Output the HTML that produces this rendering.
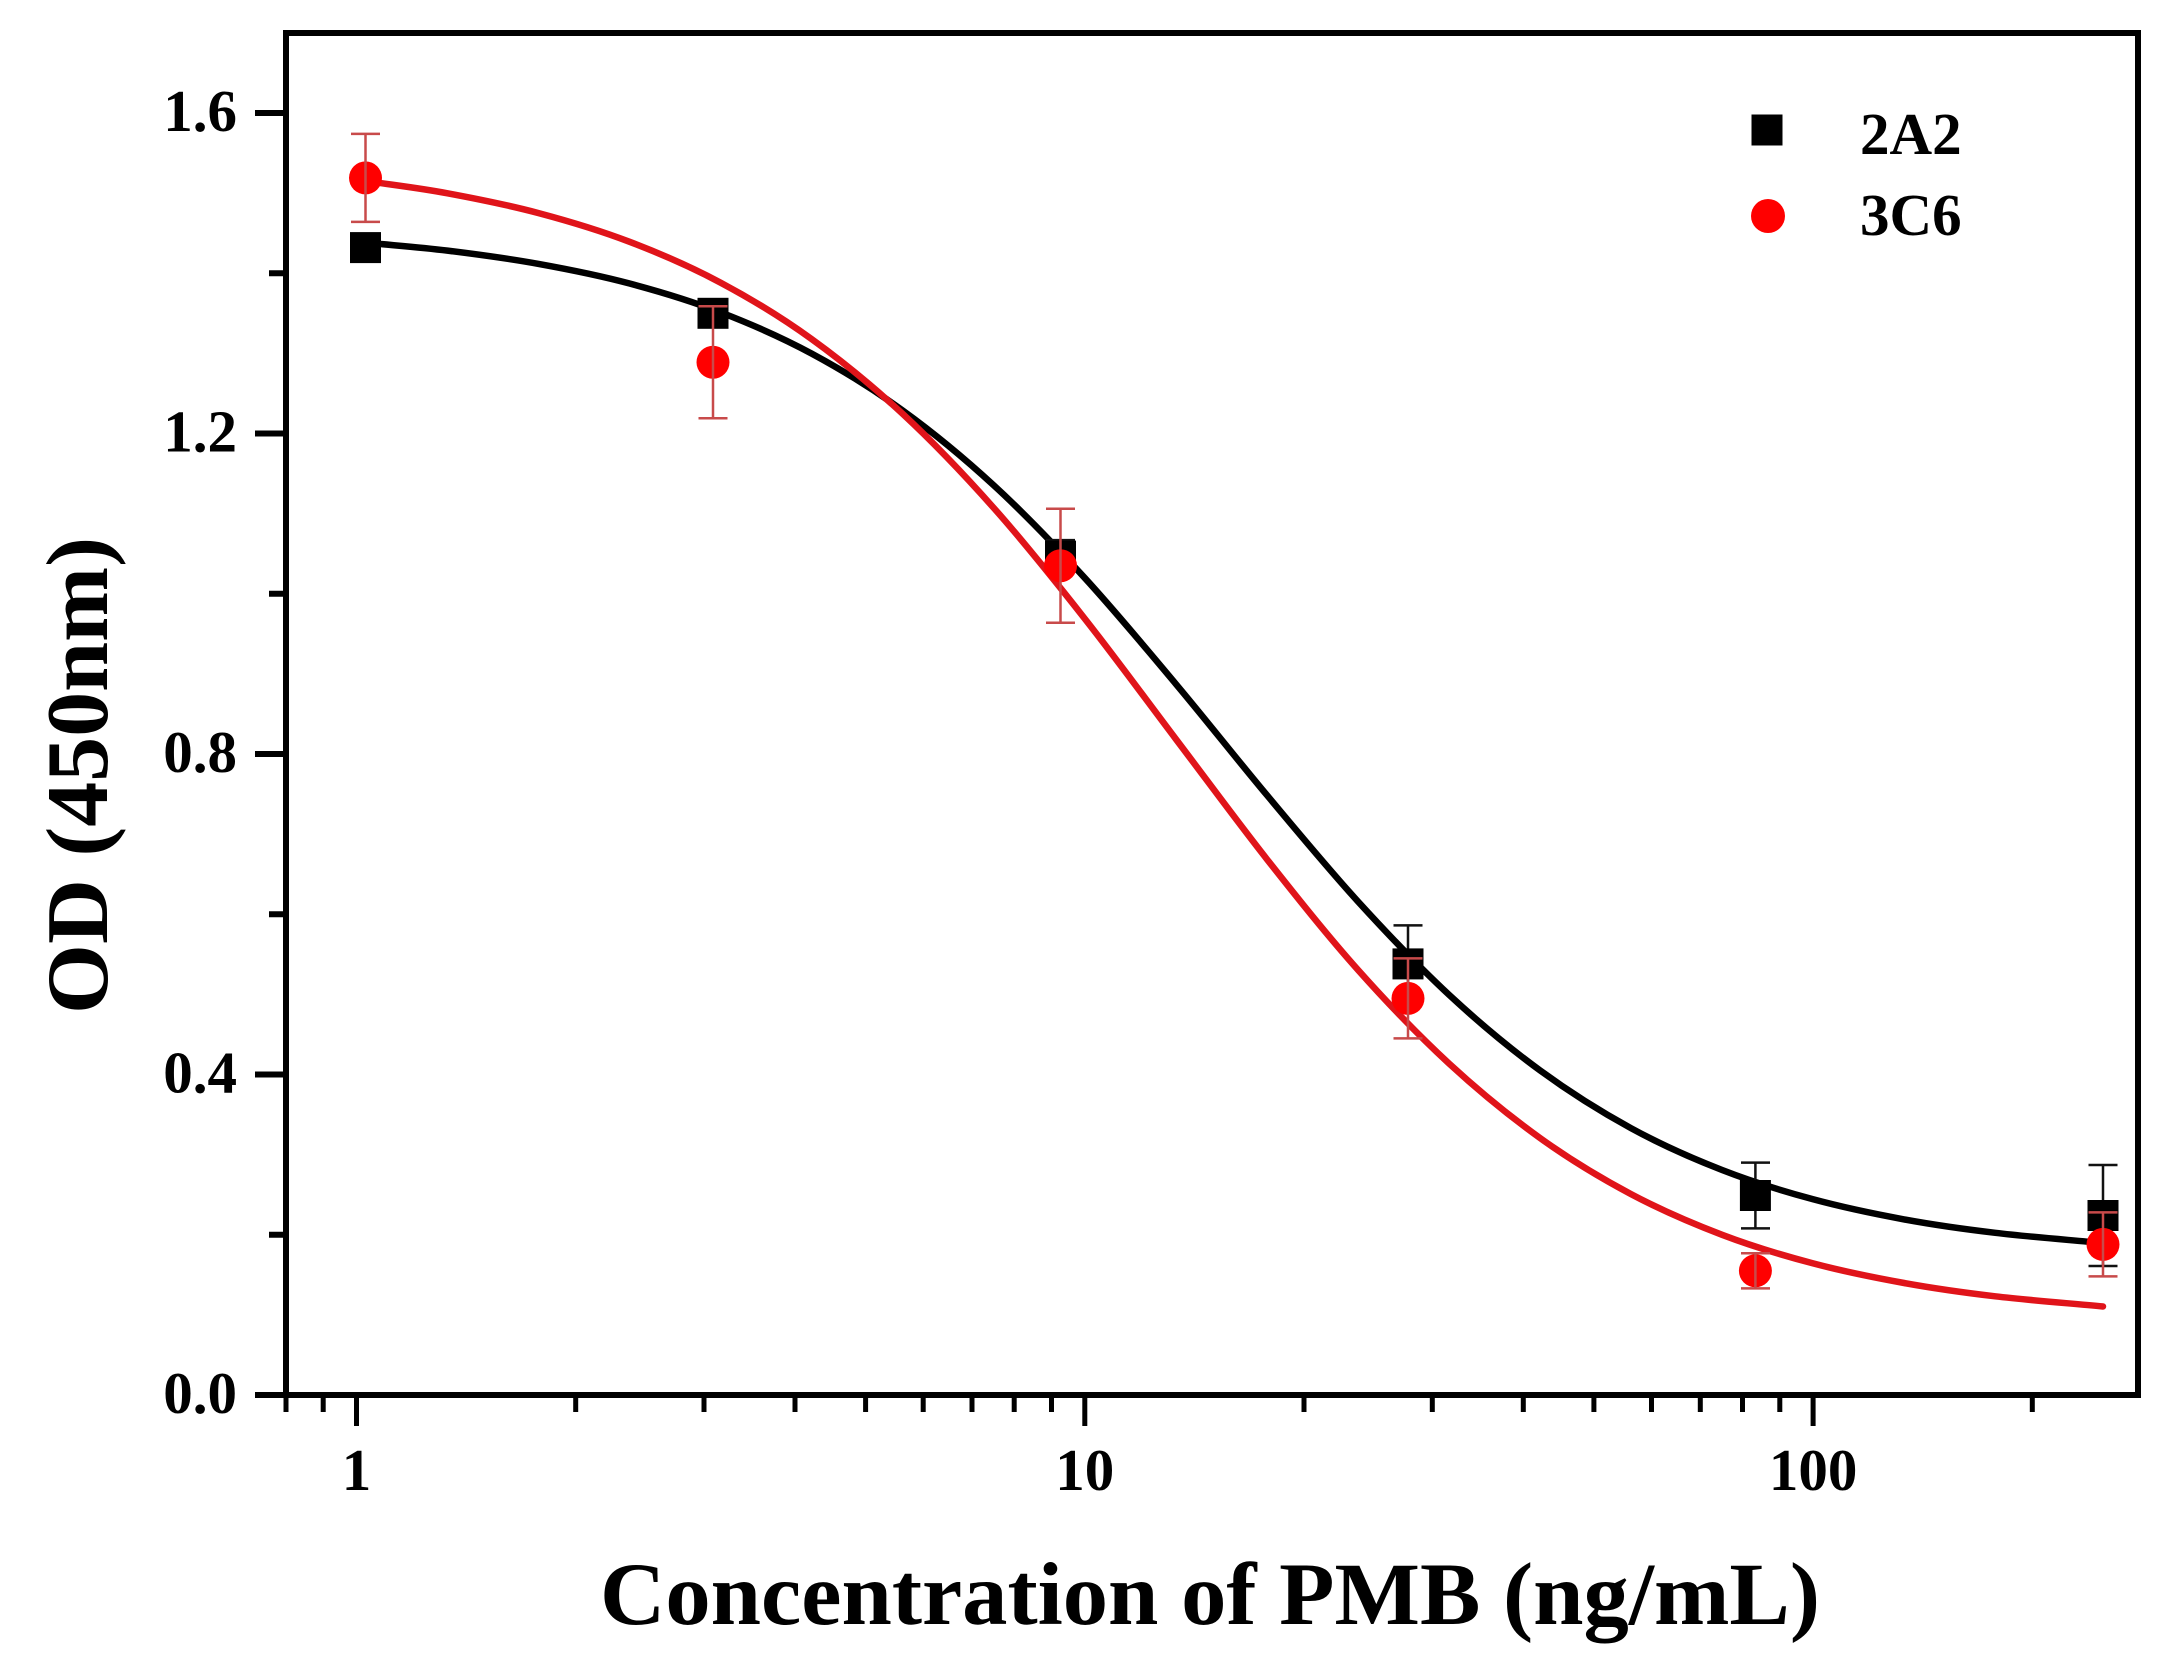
<!DOCTYPE html>
<html>
<head>
<meta charset="utf-8">
<style>
  html,body{margin:0;padding:0;background:#fff;}
  svg{display:block;}
  text{font-family:"Liberation Serif","Times New Roman",serif;font-weight:bold;fill:#000;}
</style>
</head>
<body>
<svg width="2170" height="1661" viewBox="0 0 2170 1661" xmlns="http://www.w3.org/2000/svg">
  <rect x="0" y="0" width="2170" height="1661" fill="#fff"/>

  <!-- curves -->
  <path fill="none" stroke="#000" stroke-width="6.5" stroke-linejoin="round" stroke-linecap="round"
    d="M365.5,242.6
       C392.8,245.3 418.7,247.1 447.5,250.6
       C476.4,254.2 508.3,258.4 538.6,263.9
       C569.0,269.4 599.3,275.4 629.6,283.5
       C660.0,291.6 690.4,300.7 720.7,312.4
       C751.1,324.1 781.4,337.3 811.7,353.6
       C842.0,369.9 872.4,388.5 902.7,410.5
       C933.1,432.5 963.5,457.5 993.8,485.4
       C1024.2,513.3 1054.5,544.9 1084.8,578.0
       C1115.1,611.1 1145.5,647.7 1175.8,683.9
       C1206.2,720.1 1236.6,758.9 1266.9,795.1
       C1297.3,831.4 1327.6,868.1 1357.9,901.4
       C1388.3,934.7 1418.7,966.6 1449.0,994.8
       C1479.4,1023.0 1509.7,1048.2 1540.0,1070.4
       C1570.3,1092.6 1600.7,1111.6 1631.0,1128.2
       C1661.4,1144.8 1691.8,1158.2 1722.1,1170.0
       C1752.5,1181.9 1782.8,1191.1 1813.1,1199.3
       C1843.4,1207.5 1873.8,1213.8 1904.1,1219.4
       C1934.5,1225.0 1962.1,1228.9 1995.2,1232.8
       C2028.4,1236.8 2067.1,1239.7 2103.0,1243.1"/>
  <path fill="none" stroke="#e0141a" stroke-width="6.5" stroke-linejoin="round" stroke-linecap="round"
    d="M365.5,180.9
       C392.8,185.0 418.7,187.9 447.5,193.3
       C476.4,198.7 508.3,205.0 538.6,213.1
       C569.0,221.2 599.3,230.2 629.6,241.8
       C660.0,253.4 690.4,266.5 720.7,282.7
       C751.1,298.9 781.4,317.2 811.7,339.1
       C842.0,361.0 872.4,385.8 902.7,413.9
       C933.1,442.1 963.5,473.9 993.8,508.0
       C1024.2,542.1 1054.5,580.2 1084.8,618.7
       C1115.1,657.2 1145.5,698.9 1175.8,739.0
       C1206.2,779.1 1236.6,820.7 1266.9,859.2
       C1297.3,897.7 1327.6,935.8 1357.9,969.8
       C1388.3,1003.9 1418.7,1035.5 1449.0,1063.5
       C1479.4,1091.5 1509.7,1116.2 1540.0,1138.0
       C1570.3,1159.8 1600.7,1178.0 1631.0,1194.1
       C1661.4,1210.2 1691.8,1223.3 1722.1,1234.8
       C1752.5,1246.4 1782.8,1255.4 1813.1,1263.4
       C1843.4,1271.4 1873.8,1277.5 1904.1,1283.0
       C1934.5,1288.5 1962.1,1292.4 1995.2,1296.3
       C2028.4,1300.2 2067.1,1303.1 2103.0,1306.5"/>

  <!-- black error bars -->
  <g stroke="#111" stroke-width="2.5" fill="none">
    <path d="M365.5,239.6 V255.6 M351,239.6 H380 M351,255.6 H380"/>
    <path d="M713,303.7 V322.9 M698.5,303.7 H727.5 M698.5,322.9 H727.5"/>
    <path d="M1060.5,540.1 V572.1 M1046,540.1 H1075 M1046,572.1 H1075"/>
    <path d="M1408,925.4 V1002.4 M1393.5,925.4 H1422.5 M1393.5,1002.4 H1422.5"/>
    <path d="M1755.4,1162.6 V1228.4 M1741,1162.6 H1770 M1741,1228.4 H1770"/>
    <path d="M2103,1165 V1266 M2088.5,1165 H2117.5 M2088.5,1266 H2117.5"/>
  </g>
  <!-- black squares -->
  <g fill="#000">
    <rect x="350" y="232.1" width="31" height="31"/>
    <rect x="697.5" y="297.8" width="31" height="31"/>
    <rect x="1045" y="540.6" width="31" height="31"/>
    <rect x="1392.5" y="948.4" width="31" height="31"/>
    <rect x="1739.9" y="1180" width="31" height="31"/>
    <rect x="2087.5" y="1200" width="31" height="31"/>
  </g>

  <!-- red circles -->
  <g fill="#ff0000">
    <circle cx="365.5" cy="177.9" r="16.5"/>
    <circle cx="713" cy="362.2" r="16.5"/>
    <circle cx="1060.5" cy="565.7" r="16.5"/>
    <circle cx="1408" cy="998.4" r="16.5"/>
    <circle cx="1755.4" cy="1270.8" r="16.5"/>
    <circle cx="2103" cy="1244.4" r="16.5"/>
  </g>
  <!-- red error bars -->
  <g stroke="#c84a4a" stroke-width="2.5" fill="none">
    <path d="M365.5,133.9 V221.9 M351,133.9 H380 M351,221.9 H380"/>
    <path d="M713,306.2 V418.2 M698.5,306.2 H727.5 M698.5,418.2 H727.5"/>
    <path d="M1060.5,508.7 V622.7 M1046,508.7 H1075 M1046,622.7 H1075"/>
    <path d="M1408,958.4 V1038.4 M1393.5,958.4 H1422.5 M1393.5,1038.4 H1422.5"/>
    <path d="M1755.4,1253.2 V1288.4 M1741,1253.2 H1770 M1741,1288.4 H1770"/>
    <path d="M2103,1212.4 V1276.4 M2088.5,1212.4 H2117.5 M2088.5,1276.4 H2117.5"/>
  </g>

  <!-- frame -->
  <rect x="286" y="33" width="1852" height="1362" fill="none" stroke="#000" stroke-width="6"/>

  <!-- y ticks -->
  <g stroke="#000" stroke-width="6">
    <path d="M286,1395 H255 M286,1074.5 H255 M286,754 H255 M286,433.5 H255 M286,113 H255"/>
    <path d="M286,1234.75 H269 M286,914.25 H269 M286,593.75 H269 M286,273.25 H269"/>
  </g>
  <!-- x ticks -->
  <g stroke="#000" stroke-width="5">
    <path d="M356.5,1395 V1426 M1084.8,1395 V1426 M1813.1,1395 V1426"/>
    <path d="M286,1395 V1412 M323.2,1395 V1412 M575.7,1395 V1412 M704,1395 V1412 M795,1395 V1412 M865.6,1395 V1412 M923.2,1395 V1412 M972,1395 V1412 M1014.2,1395 V1412 M1051.5,1395 V1412 M1304,1395 V1412 M1432.3,1395 V1412 M1523.3,1395 V1412 M1593.9,1395 V1412 M1651.5,1395 V1412 M1700.3,1395 V1412 M1742.5,1395 V1412 M1779.8,1395 V1412 M2032.3,1395 V1412"/>
  </g>

  <!-- y tick labels -->
  <g font-size="59" text-anchor="end">
    <text x="237" y="1413">0.0</text>
    <text x="237" y="1092.5">0.4</text>
    <text x="237" y="772">0.8</text>
    <text x="237" y="451.5">1.2</text>
    <text x="237" y="131">1.6</text>
  </g>
  <!-- x tick labels -->
  <g font-size="59" text-anchor="middle">
    <text x="356.5" y="1490">1</text>
    <text x="1084.8" y="1490">10</text>
    <text x="1813.1" y="1490">100</text>
  </g>

  <!-- axis titles -->
  <text x="600" y="1624" font-size="89" textLength="1220" lengthAdjust="spacingAndGlyphs">Concentration of PMB (ng/mL)</text>
  <text transform="translate(107,775.5) rotate(-90)" x="0" y="0" font-size="88" text-anchor="middle" textLength="477" lengthAdjust="spacingAndGlyphs">OD (450nm)</text>

  <!-- legend -->
  <rect x="1751.5" y="114.5" width="31" height="31" fill="#000"/>
  <circle cx="1768" cy="216" r="17" fill="#ff0000"/>
  <text x="1860" y="154" font-size="59">2A2</text>
  <text x="1860" y="235" font-size="59">3C6</text>
</svg>
</body>
</html>
